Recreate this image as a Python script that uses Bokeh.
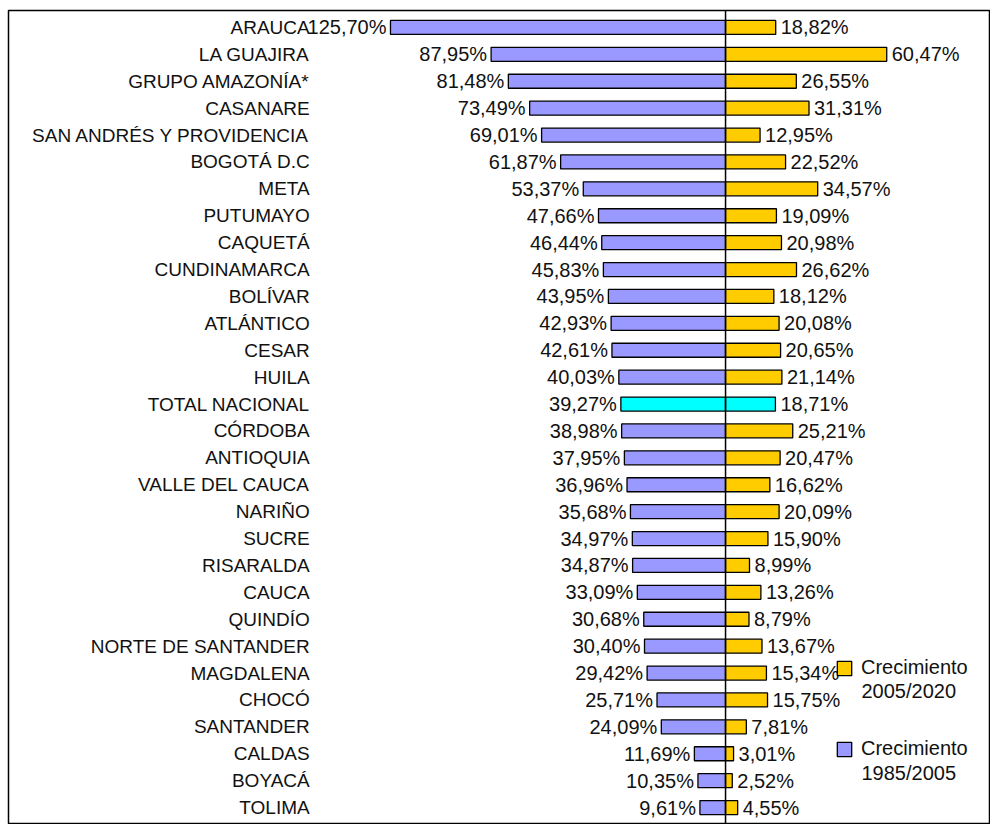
from bokeh.plotting import figure
from bokeh.models import ColumnDataSource, Range1d, Span, Legend, LegendItem, Label
from bokeh.core.properties import value
from bokeh.embed import file_html
from bokeh.resources import INLINE

categories = ["ARAUCA", "LA GUAJIRA", "GRUPO AMAZONÍA*", "CASANARE", "SAN ANDRÉS Y PROVIDENCIA",
              "BOGOTÁ D.C", "META", "PUTUMAYO", "CAQUETÁ", "CUNDINAMARCA", "BOLÍVAR", "ATLÁNTICO",
              "CESAR", "HUILA", "TOTAL NACIONAL", "CÓRDOBA", "ANTIOQUIA", "VALLE DEL CAUCA", "NARIÑO",
              "SUCRE", "RISARALDA", "CAUCA", "QUINDÍO", "NORTE DE SANTANDER", "MAGDALENA", "CHOCÓ",
              "SANTANDER", "CALDAS", "BOYACÁ", "TOLIMA"]
growth_1985_2005 = [125.70, 87.95, 81.48, 73.49, 69.01, 61.87, 53.37, 47.66, 46.44, 45.83, 43.95,
                    42.93, 42.61, 40.03, 39.27, 38.98, 37.95, 36.96, 35.68, 34.97, 34.87, 33.09,
                    30.68, 30.40, 29.42, 25.71, 24.09, 11.69, 10.35, 9.61]
growth_2005_2020 = [18.82, 60.47, 26.55, 31.31, 12.95, 22.52, 34.57, 19.09, 20.98, 26.62, 18.12,
                    20.08, 20.65, 21.14, 18.71, 25.21, 20.47, 16.62, 20.09, 15.90, 8.99, 13.26,
                    8.79, 13.67, 15.34, 15.75, 7.81, 3.01, 2.52, 4.55]
series_word = "Crecimiento"
series_periods = ["2005/2020", "1985/2005"]

PURPLE = "#9999FF"
GOLD = "#FFCC00"
CYAN = "#00FFFF"
FONT = "Liberation Sans"
TXT = "#111111"

def fmt(v):
    return f"{v:.2f}%".replace(".", ",")

idx = list(range(len(categories)))
is_total = [c == "TOTAL NACIONAL" for c in categories]

left_src = ColumnDataSource(dict(
    y=idx,
    left=[-v for v in growth_1985_2005],
    right=[0] * len(idx),
    color=[CYAN if t else PURPLE for t in is_total],
    label=[fmt(v) for v in growth_1985_2005],
))
right_src = ColumnDataSource(dict(
    y=idx,
    left=[0] * len(idx),
    right=growth_2005_2020,
    color=[CYAN if t else GOLD for t in is_total],
    label=[fmt(v) for v in growth_2005_2020],
))
cat_src = ColumnDataSource(dict(y=idx, name=categories, x=[-156] * len(idx)))

p = figure(width=990, height=824, output_backend="svg", toolbar_location=None,
           x_range=Range1d(-269, 99.4), y_range=Range1d(29.63, -0.63),
           min_border_left=8, min_border_right=0, min_border_top=10, min_border_bottom=0,
           x_axis_location=None, y_axis_location=None)
p.grid.visible = False
p.outline_line_color = "black"
p.outline_line_width = 1.5
p.background_fill_color = "white"
p.border_fill_color = "white"

r_left = p.hbar(y="y", left="left", right="right", height=0.52, source=left_src,
                fill_color="color", line_color="black", line_width=1.3)
r_right = p.hbar(y="y", left="left", right="right", height=0.52, source=right_src,
                 fill_color="color", line_color="black", line_width=1.3)

p.text(x="left", y="y", text="label", source=left_src, text_align="right", text_baseline="middle",
       x_offset=-4, text_font=value(FONT), text_font_size="20px", text_color=TXT)
p.text(x="right", y="y", text="label", source=right_src, text_align="left", text_baseline="middle",
       x_offset=5, text_font=value(FONT), text_font_size="20px", text_color=TXT)
p.text(x="x", y="y", text="name", source=cat_src, text_align="right", text_baseline="middle",
       text_font=value(FONT), text_font_size="19px", text_color=TXT)

p.add_layout(Span(location=0, dimension="height", line_color="black", line_width=1.5))

legend = Legend(items=[LegendItem(label=series_word, renderers=[r_right], index=0),
                       LegendItem(label=series_word, renderers=[r_left], index=0)],
                location=(827, 64), padding=0, margin=0, spacing=58,
                glyph_width=18, glyph_height=18, label_standoff=8,
                label_text_font=FONT, label_text_font_size="20px", label_text_color=TXT,
                border_line_alpha=0, background_fill_alpha=0)
p.add_layout(legend)

for period, ys in zip(series_periods, [134, 52]):
    p.add_layout(Label(x=853, y=ys, x_units="screen", y_units="screen", text=period,
                       text_font=FONT, text_font_size="20px", text_color=TXT,
                       text_baseline="middle", text_align="left"))

open("out.html", "w").write(file_html(p, INLINE))
